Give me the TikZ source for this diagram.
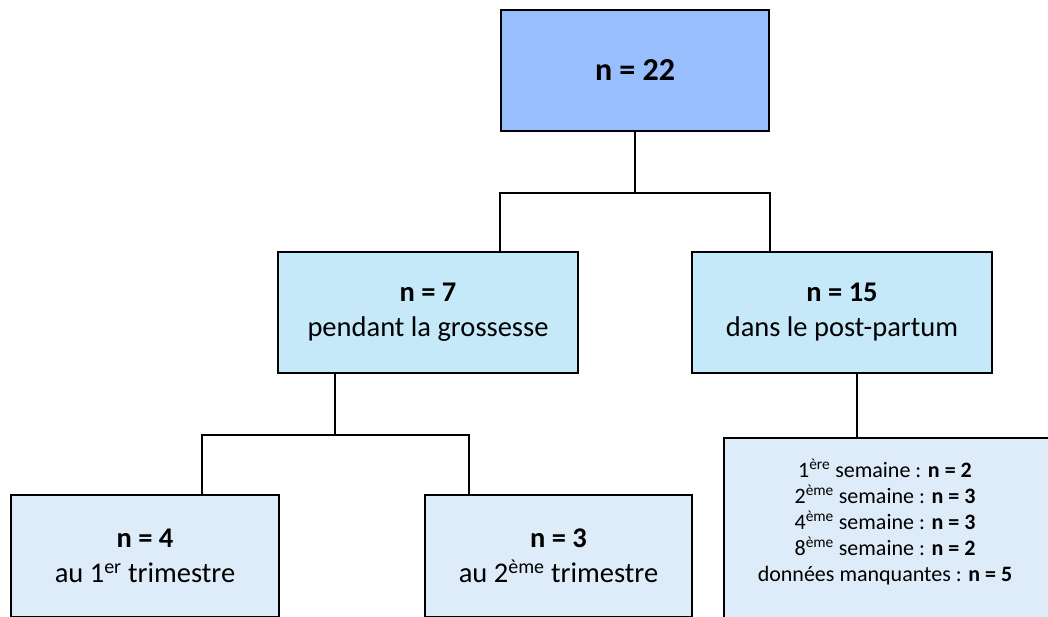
\documentclass[tikz,border=0pt]{standalone}
\usepackage{fontspec}
\setmainfont{Carlito}
\definecolor{topfill}{HTML}{99BEFD}
\definecolor{midfill}{HTML}{C6E9FA}
\definecolor{lowfill}{HTML}{DEECF9}
\begin{document}
\begin{tikzpicture}[x=1pt,y=-1pt,
  box/.style={draw=black,line width=2.2pt,rectangle,inner sep=0pt,align=center,font=\fontsize{28.5}{35}\selectfont},
  link/.style={draw=black,line width=2pt}]
\useasboundingbox (0,0) rectangle (1048,617);
\clip (0,0) rectangle (1048,617);
\node[box,fill=topfill,minimum width=268pt,minimum height=121pt,font=\fontsize{32}{38}\selectfont] (top) at (635,70.5) {\textbf{n = 22}};
\node[box,fill=midfill,minimum width=300pt,minimum height=121pt] (ml) at (428,312.5) {\textbf{n = 7}\\pendant la grossesse};
\node[box,fill=midfill,minimum width=300pt,minimum height=121pt] (mr) at (842,312.5) {\textbf{n = 15}\\dans le post-partum};
\node[box,fill=lowfill,minimum width=268pt,minimum height=122pt] (bl) at (145,556) {\textbf{n = 4}\\au 1\textsuperscript{er} trimestre};
\node[box,fill=lowfill,minimum width=267pt,minimum height=122pt] (bm) at (558.5,556) {\textbf{n = 3}\\au 2\textsuperscript{ème} trimestre};
\node[box,fill=lowfill,minimum width=340pt,minimum height=200pt,anchor=north west] (br) at (723,437) {};
\node[align=center,font=\fontsize{22}{26}\selectfont,inner sep=0pt] (brt) at (885,522) {1\textsuperscript{ère} semaine : \textbf{n = 2}\\2\textsuperscript{ème} semaine : \textbf{n = 3}\\4\textsuperscript{ème} semaine : \textbf{n = 3}\\8\textsuperscript{ème} semaine : \textbf{n = 2}\\données manquantes : \textbf{n = 5}};
\coordinate (j1) at (635,193);
\coordinate (j2) at (335,435);
\draw[link] (top.south) -- (j1);
\draw[link] (ml.north -| top.south west) -- (top.south west |- j1) -- (top.south east |- j1) -- (ml.north -| top.south east);
\draw[link] (ml.south -| j2) -- (j2);
\draw[link] (bl.north -| 202,0) -- (202,435) -- (469,435) -- (bm.north -| 469,0);
\draw[link] (mr.south -| 857,0) -- (br.north -| 857,0);
\end{tikzpicture}
\end{document}
